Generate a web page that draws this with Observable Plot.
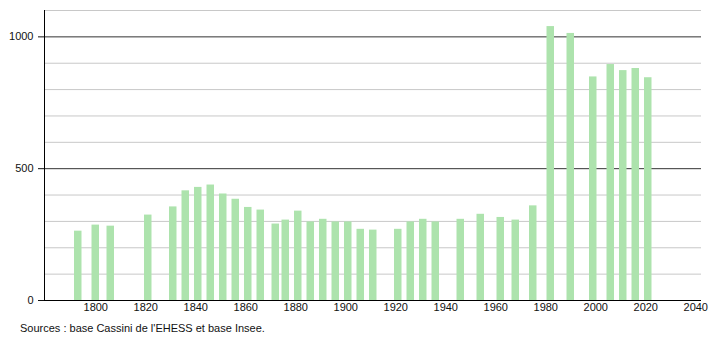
<!DOCTYPE html>
<html>
<head>
<meta charset="utf-8">
<script src="https://cdn.jsdelivr.net/npm/d3@7"></script>
<script src="https://cdn.jsdelivr.net/npm/@observablehq/plot@0.6"></script>
<style>
  body { margin: 0; background: #fff; font-family: "Liberation Sans", Arial, sans-serif; }
  #caption { font-size: 11px; color: #111; padding-left: 20px; padding-top: 3px; line-height: 14px; }
</style>
</head>
<body>
<div id="chart"></div>
<div id="caption">Sources : base Cassini de l'EHESS et base Insee.</div>
<script>
const years = [1793, 1800, 1806, 1821, 1831, 1836, 1841, 1846, 1851, 1856, 1861, 1866, 1872, 1876, 1881, 1886, 1891, 1896, 1901, 1906, 1911, 1921, 1926, 1931, 1936, 1946, 1954, 1962, 1968, 1975, 1982, 1990, 1999, 2006, 2011, 2016, 2021];
const population = [263, 286, 282, 324, 355, 416, 429, 438, 404, 384, 353, 343, 290, 305, 339, 298, 308, 298, 298, 270, 267, 270, 298, 308, 298, 308, 327, 315, 305, 359, 1039, 1013, 848, 895, 872, 880, 845];
const xTicks = [1800, 1820, 1840, 1860, 1880, 1900, 1920, 1940, 1960, 1980, 2000, 2020, 2040];
const yTicks = [0, 500, 1000];
const minorGrid = [100, 200, 300, 400, 600, 700, 800, 900, 1100];
const majorGrid = [500, 1000];

const data = years.map((y, i) => ({year: y, pop: population[i]}));

const chart = Plot.plot({
  width: 710,
  height: 318,
  marginTop: 10,
  marginBottom: 18,
  marginLeft: 44,
  marginRight: 9,
  style: {fontFamily: "'Liberation Sans', Arial, sans-serif", fontSize: "11px", color: "#111", background: "#fff"},
  x: {domain: [1779.5, 2042.3], label: null},
  y: {domain: [0, 1100], label: null},
  marks: [
    Plot.ruleY(minorGrid, {stroke: "#c8c8c8", strokeWidth: 1}),
    Plot.ruleY(majorGrid, {stroke: "#333", strokeWidth: 1}),
    Plot.rectY(data, {x1: d => d.year - 1.5, x2: d => d.year + 1.5, y: "pop", fill: "#ade3ad"}),
    Plot.ruleY([0], {stroke: "#000", strokeWidth: 1}),
    Plot.ruleX([1779.5], {y1: 0, y2: 1100, stroke: "#000", strokeWidth: 1}),
    Plot.axisX({ticks: xTicks, tickSize: 0, tickPadding: 3, tickFormat: d => String(d), label: null}),
    Plot.axisY({ticks: yTicks, tickSize: 6, tickPadding: 5, tickFormat: d => String(d), label: null})
  ]
});
document.getElementById("chart").appendChild(chart);
</script>
</body>
</html>
